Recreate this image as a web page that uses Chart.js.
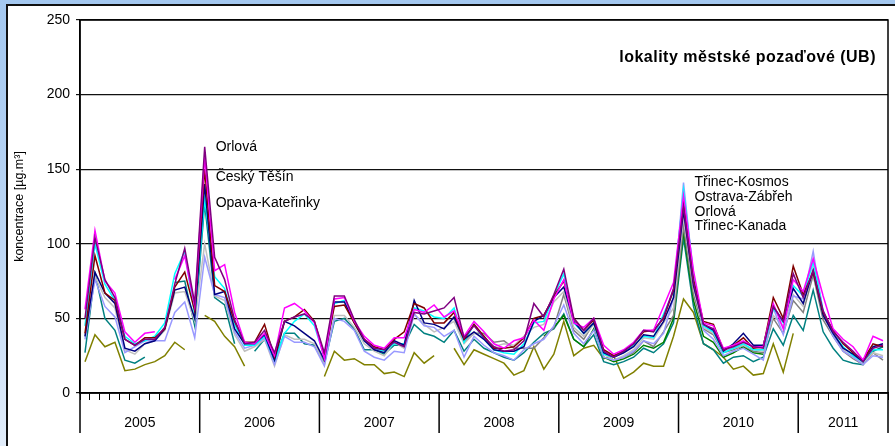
<!DOCTYPE html>
<html>
<head>
<meta charset="utf-8">
<script src="https://cdn.jsdelivr.net/npm/chart.js@4.4.1/dist/chart.umd.min.js"></script>
<style>
  html, body { margin: 0; padding: 0; }
  body {
    width: 895px; height: 446px; overflow: hidden; position: relative;
    background: linear-gradient(180deg, #a4c8f0 0%, #bcd6f4 55%, #e2edfa 100%);
  }
  #ramec {
    position: absolute; left: 6px; top: 4px; width: 900px; height: 460px;
    background: #fff; border: 2px solid #111; box-sizing: border-box;
  }
  canvas { position: absolute; left: 0; top: 0; }
</style>
</head>
<body>
<div id="ramec"></div>
<canvas id="graf" width="895" height="446"></canvas>
<script>
// roky a pocet mesicu v kazdem roce (2011 jen do zari)
const roky = ['2005', '2006', '2007', '2008', '2009', '2010', '2011'];
const mesicuVRoce = [12, 12, 12, 12, 12, 12, 9];

const kategorie = [];
roky.forEach((rok, i) => {
    for (let m = 1; m <= mesicuVRoce[i]; m++) kategorie.push(rok + '-' + m);
});

// mesicni prumery [µg.m-3]
const radaFialova = [
    50, 104, 76, 64, 36, 32, 36, 36, 44, 73, 97, 60,
    165, 91, 76, 49, 33, 34, 42, 27, 48, 51, 53, 48,
    27, 65, 65, 49, 36, 30, 29, 34, 31, 54, 53, 55,
    57, 64, 37, 45, 37, 31, 28, 29, 35, 60, 51, 66,
    83, 50, 42, 50, 28, 24, 28, 33, 42, 41, 51, 70,
    125, 74, 46, 43, 29, 31, 34, 31, 30, 58, 48, 80,
    64, 82, 55, 41, 34, 28, 21, 30, 32
];
const radaPurpurova = [
    56, 109, 75, 67, 41, 34, 40, 41, null, 76, 92, 58,
    158, 82, 86, 54, 34, 33, 40, 25, 57, 60, 55, 47,
    23, 63, 64, 48, 38, 32, 30, 37, 37, 56, 54, 59,
    51, 55, 38, 48, 41, 33, 30, 35, 37, 49, 42, 63,
    76, 47, 44, 50, 32, 26, 29, 34, 42, 42, 58, 74,
    132, 82, 47, 45, 30, 32, 35, 31, 31, 60, 43, 76,
    68, 90, 65, 43, 36, 31, 22, 38, 35
];
const radaVinova = [
    40, 92, 67, 62, 36, 32, 37, 37, 43, 71, 81, 55,
    150, 72, 68, 48, 34, 34, 46, 24, 48, 51, 56, 48,
    25, 58, 59, 47, 36, 31, 29, 36, 41, 60, 57, 47,
    47, 54, 36, 46, 38, 30, 30, 31, 37, 50, 52, 65,
    75, 50, 42, 49, 29, 25, 28, 33, 41, 42, 50, 69,
    128, 76, 48, 46, 29, 32, 37, 30, 31, 64, 50, 85,
    66, 81, 54, 42, 33, 27, 22, 33, 31
];
const radaTmaveModra = [
    38, 81, 67, 60, 30, 28, 33, 35, 43, 69, 71, 50,
    140, 66, 68, 43, 33, 33, 39, 22, 48, 45, 40, 35,
    22, 61, 61, 47, 35, 29, 27, 35, 32, 62, 47, 46,
    43, 51, 36, 41, 36, 29, 28, 28, 31, 48, 52, 64,
    71, 48, 40, 47, 27, 24, 27, 31, 39, 38, 48, 64,
    122, 72, 46, 42, 28, 33, 40, 32, 32, 58, 48, 70,
    60, 82, 52, 40, 30, 26, 21, 31, 33
];
const radaAzurova = [
    45, 100, 73, 62, 38, 33, 35, 38, 47, 80, 95, 52,
    130, 78, 70, 46, 32, 32, 38, 22, 40, 48, 53, 45,
    24, 60, 62, 48, 35, 30, 28, 33, 33, 57, 55, 51,
    50, 57, 34, 46, 36, 29, 27, 26, 33, 47, 48, 65,
    80, 47, 40, 47, 26, 24, 27, 32, 38, 37, 53, 68,
    136, 80, 45, 41, 27, 30, 33, 29, 29, 57, 47, 72,
    65, 88, 55, 40, 31, 25, 21, 29, 29
];
const radaLevandulova = [
    36, 76, 58, 51, 27, 31, 35, 35, 35, 54, 61, 37,
    91, 66, 64, 41, 30, 32, 37, 19, 38, 34, 34, 31,
    18, 50, 48, 42, 28, 24, 22, 28, 27, 53, 45, 44,
    38, 42, 24, 38, 32, 27, 25, 22, 29, 33, 36, 45,
    59, 40, 33, 42, 24, 22, 24, 28, 35, 33, 40, 64,
    141, 78, 42, 36, 25, 28, 30, 26, 22, 57, 39, 65,
    63, 95, 54, 38, 28, 24, 19, 25, 24
];
const radaStribrna = [
    38, 78, 64, 57, 29, 26, 33, 35, 42, 67, 68, 48,
    100, 65, 62, 39, 28, 31, 36, 18, 39, 36, 36, 33,
    19, 52, 52, 44, 33, 28, 25, 34, 30, 53, 46, 41,
    44, 48, 33, 40, 38, 31, 33, 32, 38, 44, 46, 61,
    68, 44, 38, 46, 26, 22, 25, 29, 37, 36, 47, 57,
    118, 70, 44, 40, 28, 30, 32, 29, 28, 52, 45, 66,
    58, 85, 52, 39, 29, 24, 20, 27, 25
];
const radaSeda = [
    null, null, null, null, null, null, null, null, null, null, null, null,
    null, null, null, null, null, null, null, null, null, null, null, null,
    null, null, null, null, null, null, null, null, null, null, null, null,
    null, 50, 34, 40, 40, 34, 35, 30, 30, 30, 37, 44,
    66, 42, 36, 47, 27, 22, 24, 27, 35, 31, 41, 52,
    112, 66, 43, 39, 27, 29, 32, 28, 27, 50, 40, 62,
    54, 79, 49, 38, 28, 23, 19, 27, 22
];
const radaZelena = [
    null, null, null, null, null, null, null, null, null, null, null, null,
    null, null, null, null, null, null, null, null, null, null, null, null,
    null, null, null, null, null, null, null, null, null, null, null, null,
    null, null, null, null, null, null, null, null, null, null, 38, 44,
    52, 36, 31, 43, 24, 21, 23, 26, 32, 30, 34, 50,
    108, 62, 38, 34, 24, 27, 31, 27, 26, null, null, null,
    null, null, null, null, null, null, null, null, null
];
const radaModrozelena = [
    27, 80, 50, 42, 22, 20, 24, null, null, 74, 75, 45,
    127, 64, 59, 33, null, 28, 36, 22, 40, 40, 33, 32,
    20, 48, 50, 43, 29, 29, 26, 32, 32, 46, 40, 38,
    34, 42, 28, 36, 30, 27, 24, 22, 27, 34, 40, 43,
    53, 36, 31, 39, 21, 19, 21, 24, 30, 27, 33, 47,
    104, 58, 33, 29, 20, 24, 25, 21, 24, 43, 32, 52,
    42, 69, 41, 30, 22, 20, 19, 28, 31
];
const radaOlivova = [
    21, 39, 31, 34, 15, 16, 19, 21, 25, 34, 29, null,
    52, 48, 38, 31, 18, null, null, null, null, null, null, null,
    11, 28, 22, 23, 19, 19, 13, 14, 11, 27, 20, 25,
    null, 30, 19, 29, 26, 23, 20, 12, 15, 31, 16, 26,
    48, 25, 30, 32, 23, 25, 10, 14, 20, 18, 18, 38,
    63, 54, 33, 29, 24, 16, 18, 12, 13, 33, 14, 40,
    null, null, null, null, null, null, null, null, null
];

const pismo = "'Liberation Sans', Arial, sans-serif";

// popisky u spicek: [index mesice, hodnota pro vysku, text]
const popisky = [
    [12, 165, 'Orlová'],
    [12, 145, 'Český Těšín'],
    [12, 127, 'Opava-Kateřinky'],
    [60, 141, 'Třinec-Kosmos'],
    [60, 131, 'Ostrava-Zábřeh'],
    [60, 121, 'Orlová'],
    [60, 112, 'Třinec-Kanada']
];

const doplnky = {
    id: 'doplnky',
    afterDraw(chart) {
        const ctx = chart.ctx;
        const x = chart.scales.x;
        const y = chart.scales.y;
        const a = chart.chartArea;
        const krok = x.getPixelForValue(1) - x.getPixelForValue(0);

        ctx.save();
        ctx.strokeStyle = '#000';
        ctx.lineWidth = 1.5;
        ctx.strokeRect(a.left, a.top, a.right - a.left, a.bottom - a.top);

        // rozdeleni na roky
        ctx.fillStyle = '#000';
        ctx.font = '14px ' + pismo;
        ctx.textAlign = 'center';
        ctx.textBaseline = 'middle';
        let start = 0;
        roky.forEach((rok, i) => {
            const n = mesicuVRoce[i];
            const levy = x.getPixelForValue(start) - krok / 2;
            const pravy = x.getPixelForValue(start + n - 1) + krok / 2;
            ctx.beginPath();
            ctx.moveTo(levy, a.bottom);
            ctx.lineTo(levy, a.bottom + 40);
            if (i === roky.length - 1) {
                ctx.moveTo(pravy, a.bottom);
                ctx.lineTo(pravy, a.bottom + 40);
            }
            ctx.stroke();
            ctx.fillText(rok, (levy + pravy) / 2, a.bottom + 30);
            start += n;
        });

        // popisky stanic
        ctx.textAlign = 'left';
        popisky.forEach(p => {
            ctx.fillText(p[2], x.getPixelForValue(p[0]) + 11, y.getPixelForValue(p[1]));
        });

        // nadpis
        ctx.font = 'bold 16px ' + pismo;
        ctx.textAlign = 'right';
        if ('letterSpacing' in ctx) ctx.letterSpacing = '0.5px';
        ctx.fillText('lokality městské pozaďové (UB)', a.right - 12, a.top + 38);
        ctx.restore();
    }
};

function rada(data, barva) {
    return { data: data, borderColor: barva, backgroundColor: barva, spanGaps: false };
}

new Chart(document.getElementById('graf'), {
    type: 'line',
    data: {
        labels: kategorie,
        datasets: [
            rada(radaFialova, '#800080'),
            rada(radaPurpurova, '#ff00ff'),
            rada(radaVinova, '#800000'),
            rada(radaTmaveModra, '#000080'),
            rada(radaAzurova, '#00ffff'),
            rada(radaLevandulova, '#9999ff'),
            rada(radaStribrna, '#c0c0c0'),
            rada(radaSeda, '#808080'),
            rada(radaZelena, '#008000'),
            rada(radaModrozelena, '#008080'),
            rada(radaOlivova, '#808000')
        ]
    },
    options: {
        responsive: false,
        animation: false,
        devicePixelRatio: 1,
        layout: { padding: { left: 7, top: 20, right: 7, bottom: 0 } },
        elements: {
            line: { borderWidth: 1.5, tension: 0 },
            point: { radius: 0, hoverRadius: 0 }
        },
        plugins: {
            legend: { display: false },
            tooltip: { enabled: false }
        },
        scales: {
            x: {
                offset: true,
                grid: { offset: true, drawOnChartArea: false, color: '#000', tickLength: 7, tickWidth: 1 },
                border: { color: '#000', width: 1.5 },
                ticks: { display: false, autoSkip: false },
                afterFit(s) { s.height = 53; }
            },
            y: {
                min: 0,
                max: 250,
                ticks: { stepSize: 50, color: '#000', font: { size: 14, family: pismo }, padding: 6 },
                grid: { color: '#111', lineWidth: 1.2, tickLength: 4 },
                border: { color: '#000', width: 1.5 },
                title: {
                    display: true,
                    text: 'koncentrace [µg.m³]',
                    color: '#000',
                    font: { size: 12.5, family: pismo },
                    padding: { top: 5, bottom: 0 }
                },
                afterFit(s) { s.width = 73; }
            }
        }
    },
    plugins: [doplnky]
});
</script>
</body>
</html>
